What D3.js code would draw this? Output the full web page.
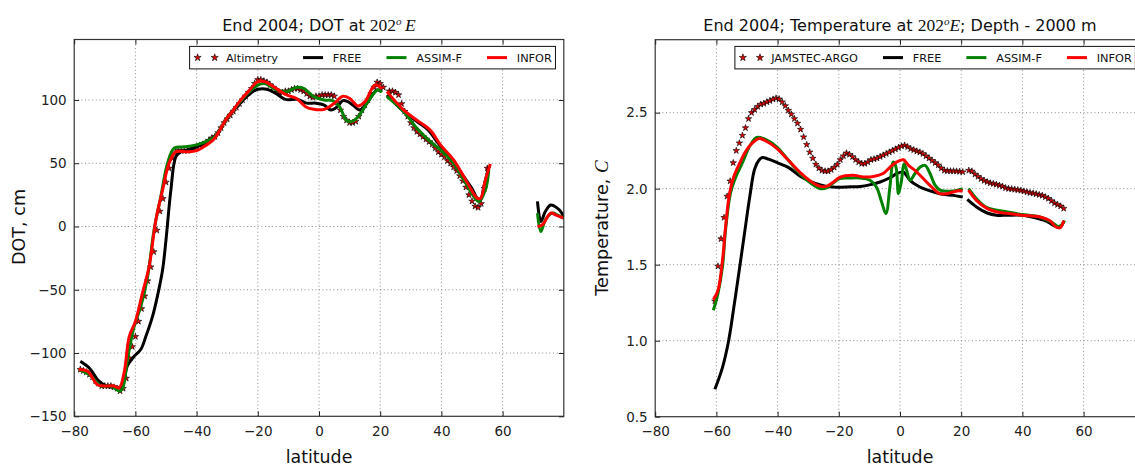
<!DOCTYPE html>
<html><head><meta charset="utf-8">
<script src="https://cdn.jsdelivr.net/npm/d3@7"></script>
<style>body{margin:0;background:#fff}svg{display:block;background:#fff}</style>
</head><body><svg id="c" width="1135" height="467"></svg>
<script>
// ---------------- DATA ----------------
const latTicks = [-80,-60,-40,-20,0,20,40,60];
const dotTicks = [-150,-100,-50,0,50,100];
const tempTicks = [0.5,1.0,1.5,2.0,2.5];

// Left panel: DOT (cm)
const dotAltLat = [-78,-77,-76,-75,-74,-73,-72,-71,-70,-69,-68,-67,-66,-65,-64,-63,-62,-61,-60,-59,-58,-57,-56,-55,-54,-53,-52,-51,-50,-49,-48,-47,-46,-45,-44,-43,-42,-41,-40,-39,-38,-37,-36,-35,-34,-33,-32,-31,-30,-29,-28,-27,-26,-25,-24,-23,-22,-21,-20,-19,-18,-17,-16,-15,-14,-13,-12,-11,-10,-9,-8,-7,-6,-5,-4,-3,-2,-1,0,1,2,3,4,5,6,7,8,9,10,11,12,13,14,15,16,17,18,19,20,21,23,24,25,26,27,28,29,30,31,32,33,34,35,36,37,38,39,40,41,42,43,44,45,46,47,48,49,50,51,52,53,54,55];
const dotAltVal = [-113,-114,-115,-117,-119,-122,-124,-126,-126,-126,-126,-127,-128,-130,-128,-120,-104,-95,-87,-75,-65,-55,-43,-32,-20,-3,12,22,35,46,54,58,60,60,60,60,61,62,63,64,65,66,68,70,71,74,78,82,85,88,91,94,97,100,103,106,109,113,116,116,115,114,112,110,108,106,106,107,107,108,109,109,108,107,105,103,102,103,103,104,104,104,104,103,98,92,87,84,82,82,83,87,92,96,100,105,110,114,113,110,107,107,106,104,97,91,87,82,78,75,73,71,69,67,65,62,59,57,55,52,50,47,44,40,36,31,25,20,16,15,18,30,46];

const dotFreeLat = [-78,-75,-72,-69,-66,-64.5,-62.6,-60.4,-58.2,-56.6,-54.4,-52.8,-51.1,-50,-48.4,-46.8,-45.2,-42.8,-40,-37,-34,-32,-30,-28,-26,-24,-22,-20,-17,-14,-11,-7,-4,-1,1.7,3.9,6,7.8,9.4,11.7,13.3,16,18.9,20.5,21.3,22.2,27.7,32,35.8,38.6,43,47.3,50,51.7,52.8,54,55.5,60,71.4,72.5,74,75.7,77,78.5,80];
const dotFreeVal = [-106.5,-112,-122,-126.5,-127,-127,-110,-102.5,-97,-87,-71,-55,-34,-10.5,29,55,59,60.5,63,67,71,78,86,92,97,102,106,108.5,108.5,105,100.5,100.5,97.5,97.5,96,92,94.7,99.5,98.7,94.7,92,98.7,108,106.5,null,104,90.8,83,76,67,54,39.5,30,22.4,21,33,47.4,null,19.8,4,12,17,16,13.2,8];

const dotAssimLat = [-78.5,-74.6,-71.3,-68,-65.3,-64.2,-62.6,-60.4,-58.2,-56,-53.9,-51.7,-49.5,-47.3,-44,-40,-37,-34,-32,-30,-28,-26,-23,-20,-17.8,-13.9,-10.6,-7.2,-5,-1.7,1.7,4.4,6.7,8.9,10.6,12.8,15,17.8,19.4,20.5,21.3,22.2,27.7,32,36.4,39.7,44,47.3,50.6,52.2,54.4,55.5,60,71.4,72.5,74,76.3,78,80];
const dotAssimVal = [-113,-118,-126,-126,-130,-128,-105,-79,-63,-39.4,-2.6,23.7,50,62,63,64.5,67,71,78,86,92,98,106,111.8,113,108,106.6,110,109.2,102.6,100,99.5,94.7,84,83,86.8,94.7,105,108,106,null,102.6,90.8,77.6,67,60.5,50,37,23.7,19.8,29,44.8,null,10.6,-4,5.3,10.6,9,6.6];

const dotInforLat = [-78.5,-75.6,-72.4,-70.2,-67,-65.3,-63.7,-62,-60,-57.7,-55.5,-53.3,-51.1,-49,-46.8,-43,-40,-37,-34,-32,-30,-28,-26,-23,-20,-17.8,-13.9,-10.6,-7.2,-4.4,-1.7,1.7,5,7.8,10,12.8,15,18.3,20.5,21.3,22.2,27.7,32,36.4,39.7,44,47.3,49.5,51.7,52.8,54.4,56,60,71.4,73,75.7,77.5,80];
const dotInforVal = [-113,-114.5,-125,-126,-126,-127.5,-115.7,-86.8,-75,-52.6,-31.5,5.3,29,50,59,59,60,64,70,78,86,92,98.7,107,114.5,114.5,109,104,101,94.7,92.6,92.6,97.4,103,101.3,95.3,98.7,111.8,109,null,106.6,92,84,76,64.5,52.7,39.5,30.3,22.4,22.4,37,49.5,null,0,1.4,10.6,9,6.6];

// Right panel: Temperature at 2000 m (C)
const tArgoLat = [-60.5,-59.5,-58.5,-57.5,-56.5,-55.5,-54.5,-53.5,-52.5,-51.5,-50.5,-49.5,-48.5,-47.5,-46.5,-45.5,-44.5,-43.5,-42.5,-41.5,-40.5,-39.5,-38.5,-37.5,-36.5,-35.5,-34.5,-33.5,-32.5,-31.5,-30.5,-29.5,-28.5,-27.5,-26.5,-25.5,-24.5,-23.5,-22.5,-21.5,-20.5,-19.5,-18.5,-17.5,-16.5,-15.5,-14.5,-13.5,-12.5,-11.5,-10.5,-9.5,-8.5,-7.5,-6.5,-5.5,-4.5,-3.5,-2.5,-1.5,-0.5,0.5,1.5,2.5,3.5,4.5,5.5,6.5,7.5,8.5,9.5,10.5,11.5,12.5,13.5,14.5,15.5,16.5,17.5,18.5,19.5,20.5,22.5,23.5,24.5,25.5,26.5,27.5,28.5,29.5,30.5,31.5,32.5,33.5,34.5,35.5,36.5,37.5,38.5,39.5,40.5,41.5,42.5,43.5,44.5,45.5,46.5,47.5,48.5,49.5,50.5,51.5,52.5,53.5];
const tArgoVal = [1.26,1.49,1.67,1.81,1.95,2.05,2.17,2.25,2.30,2.35,2.40,2.46,2.50,2.52,2.54,2.555,2.56,2.57,2.578,2.588,2.595,2.59,2.57,2.545,2.515,2.49,2.46,2.43,2.39,2.34,2.29,2.24,2.20,2.16,2.135,2.12,2.115,2.115,2.125,2.14,2.16,2.19,2.215,2.234,2.225,2.21,2.19,2.175,2.165,2.165,2.175,2.19,2.195,2.20,2.21,2.22,2.23,2.24,2.25,2.26,2.27,2.28,2.285,2.275,2.262,2.255,2.247,2.24,2.23,2.215,2.20,2.185,2.17,2.155,2.135,2.12,2.117,2.116,2.116,2.115,2.113,2.11,2.12,2.115,2.095,2.08,2.065,2.053,2.045,2.037,2.033,2.028,2.022,2.015,2.005,2.0,1.998,1.995,1.992,1.988,1.983,1.978,1.973,1.97,1.965,1.96,1.955,1.945,1.935,1.92,1.905,1.895,1.885,1.87];

const tFreeLat = [-60.5,-58,-56,-54.3,-52.7,-51,-49,-47.5,-46,-45,-43,-40,-36.5,-32.5,-29,-26,-23,-20,-16,-13,-10,-6.5,-3,-1,1,2,3.3,5.5,7.7,11,14,17.5,20.5,21.3,22,25,28.5,31.5,35,40,45.7,48,50,52,53.5];
const tFreeVal = [0.68,0.825,1.0,1.22,1.44,1.68,1.96,2.13,2.19,2.205,2.194,2.17,2.14,2.08,2.045,2.025,2.012,2.01,2.012,2.015,2.025,2.044,2.075,2.10,2.11,2.09,2.055,2.022,2.0,1.978,1.963,1.956,1.945,null,1.93,1.88,1.84,1.825,1.825,1.825,1.80,1.785,1.76,1.744,1.78];

const tAssimLat = [-61,-59.5,-58,-57,-55.4,-53.8,-51.6,-48.9,-46.8,-43.5,-40.3,-36.6,-32.3,-29,-26,-24,-22,-19.7,-16.4,-13.1,-9.8,-7.7,-6,-4.6,-3.3,-2.2,-1.3,-0.5,0.5,1.3,2.2,3.3,4.9,6.6,8.2,9.8,11.5,13.1,17.5,20.5,21.3,22.4,25,28.4,31.7,35,40,45.7,49.5,51.6,52.7,53.8];
const tAssimVal = [1.20,1.31,1.49,1.73,1.97,2.07,2.166,2.287,2.337,2.32,2.275,2.19,2.09,2.034,2.0,2.005,2.035,2.066,2.07,2.07,2.055,2.011,1.912,1.836,2.011,2.175,2.142,1.967,2.055,2.164,2.12,2.055,2.10,2.142,2.153,2.10,2.022,1.99,1.985,2.0,null,2.0,1.934,1.875,1.858,1.847,1.83,1.814,1.78,1.752,1.76,1.79];

const tInforLat = [-61,-59.5,-58,-57,-55.7,-54.3,-52.7,-50.5,-48.4,-46,-43.5,-40.3,-36.6,-32.3,-29,-26,-24,-22,-19.7,-15.3,-12,-8.7,-5.5,-3.3,-1.1,1.1,2.7,4.9,7.1,9.8,13,15.3,18.6,20.5,21.3,22.4,25,28.4,31.7,35,40,45.7,48.9,51,52.4,53.5];
const tInforVal = [1.27,1.33,1.53,1.75,1.97,2.08,2.155,2.243,2.298,2.33,2.31,2.265,2.19,2.10,2.045,2.015,2.015,2.04,2.075,2.088,2.077,2.08,2.10,2.14,2.175,2.19,2.155,2.12,2.077,2.022,1.967,1.967,1.985,1.985,null,1.99,1.923,1.87,1.847,1.838,1.825,1.814,1.79,1.748,1.744,1.79];

const leftLegend = ["Altimetry","FREE","ASSIM-F","INFOR"];
const rightLegend = ["JAMSTEC-ARGO","FREE","ASSIM-F","INFOR"];
const lineColors = {FREE:"#000000","ASSIM-F":"#008000",INFOR:"#ff0000"};

// ---------------- DRAWING ----------------
const svg = d3.select("#c");
const SANS = '"DejaVu Sans", sans-serif';
const SERIF = '"Liberation Serif","DejaVu Serif",serif';
const pts = (la, va) => d3.zip(la, va).map(([lat, v]) => ({lat, v}));

const panels = [
  { key:"L",
    x: d3.scaleLinear().domain([-80,80]).range([74.2,563.8]),
    y: d3.scaleLinear().domain([-150,147.8]).range([416.3,39.5]),
    yt: dotTicks, yfmt: d3.format("d"),
    stars: pts(dotAltLat, dotAltVal),
    lines: [["FREE", pts(dotFreeLat, dotFreeVal)], ["ASSIM-F", pts(dotAssimLat, dotAssimVal)], ["INFOR", pts(dotInforLat, dotInforVal)]],
    legend: leftLegend, legendX: 189.6 },
  { key:"R",
    x: d3.scaleLinear().domain([-80,80]).range([655.2,1144.8]),
    y: d3.scaleLinear().domain([0.5,2.98]).range([416.7,39.7]),
    yt: tempTicks, yfmt: d3.format(".1f"),
    stars: pts(tArgoLat, tArgoVal),
    lines: [["FREE", pts(tFreeLat, tFreeVal)], ["ASSIM-F", pts(tAssimLat, tAssimVal)], ["INFOR", pts(tInforLat, tInforVal)]],
    legend: rightLegend, legendX: 734.9 }
];

const starPath = d3.symbol(d3.symbolStar, 13)();
const starPathLg = d3.symbol(d3.symbolStar, 16)();

panels.forEach(p => {
  const [x0, x1] = p.x.range();
  const [yb, yt] = p.y.range();
  const g = svg.append("g");
  const cid = "clip" + p.key;
  svg.append("clipPath").attr("id", cid).append("rect")
    .attr("x", x0).attr("y", yt).attr("width", x1 - x0).attr("height", yb - yt);

  // grid
  const grid = g.append("g").attr("stroke", "#808080").attr("stroke-width", 0.9).attr("stroke-dasharray", "1,2.6");
  grid.selectAll("line.vx").data(latTicks.filter(v => v > p.x.domain()[0])).join("line")
    .attr("x1", d => p.x(d)).attr("x2", d => p.x(d)).attr("y1", yb).attr("y2", yt);
  grid.selectAll("line.hy").data(p.yt.filter(v => v > p.y.domain()[0])).join("line")
    .attr("x1", x0).attr("x2", x1).attr("y1", d => p.y(d)).attr("y2", d => p.y(d));

  // data
  const plot = g.append("g").attr("clip-path", `url(#${cid})`);
  plot.selectAll("path.star").data(p.stars).join("path").attr("class", "star")
    .attr("transform", d => `translate(${p.x(d.lat)},${p.y(d.v)})`)
    .attr("d", starPath).attr("fill", "#e00000").attr("stroke", "#000").attr("stroke-width", 0.6);
  const line = d3.line().defined(d => d.v != null).x(d => p.x(d.lat)).y(d => p.y(d.v))
    .curve(d3.curveCatmullRom.alpha(0.5));
  p.lines.forEach(([name, data]) => {
    plot.append("path").datum(data).attr("d", line).attr("fill", "none")
      .attr("stroke", lineColors[name]).attr("stroke-width", 3)
      .attr("stroke-linejoin", "round").attr("stroke-linecap", "butt");
  });

  // frame
  g.append("rect").attr("x", x0).attr("y", yt).attr("width", x1 - x0).attr("height", yb - yt)
    .attr("fill", "none").attr("stroke", "#333").attr("stroke-width", 1.2);

  // axes
  const style = a => a.attr("color", "#222").attr("font-family", SANS).attr("font-size", 13.5)
    .call(s => s.select(".domain").remove());
  g.append("g").attr("transform", `translate(0,${yb})`)
    .call(d3.axisBottom(p.x).tickValues(latTicks).tickSize(-5).tickPadding(10).tickFormat(d3.format("d"))).call(style);
  g.append("g").attr("transform", `translate(0,${yt})`)
    .call(d3.axisTop(p.x).tickValues(latTicks).tickSize(-5).tickFormat("")).call(style);
  g.append("g").attr("transform", `translate(${x0},0)`)
    .call(d3.axisLeft(p.y).tickValues(p.yt).tickSize(-5).tickPadding(7.5).tickFormat(p.yfmt)).call(style);
  g.append("g").attr("transform", `translate(${x1},0)`)
    .call(d3.axisRight(p.y).tickValues(p.yt).tickSize(-5).tickFormat("")).call(style);

  // legend
  const lg = svg.append("g").attr("font-family", SANS).attr("font-size", 11.3);
  const box = lg.append("rect");
  const cy = 57.6;
  let hx = p.legendX + 6.5, end = hx;
  p.legend.forEach((name, i) => {
    if (i === 0) {
      [hx + 1.5, hx + 18.6].forEach(sx => lg.append("path").attr("d", starPathLg)
        .attr("transform", `translate(${sx},${cy})`).attr("fill", "#e00000").attr("stroke", "#000").attr("stroke-width", 0.6));
    } else {
      lg.append("line").attr("x1", hx).attr("x2", hx + 20).attr("y1", cy).attr("y2", cy)
        .attr("stroke", lineColors[name]).attr("stroke-width", 3);
    }
    const t = lg.append("text").attr("x", hx + 29.8).attr("y", cy + 4.1).attr("fill", "#111").text(name);
    end = hx + 29.8 + t.node().getComputedTextLength();
    hx = end + 25;
  });
  box.attr("x", p.legendX).attr("y", 46.4).attr("width", end + 3.6 - p.legendX).attr("height", 22.5)
    .attr("fill", "#fff").attr("stroke", "#111").attr("stroke-width", 1);

  // x label
  svg.append("text").attr("x", (x0 + Math.min(x1, 1144.8)) / 2).attr("y", 462.5).attr("text-anchor", "middle")
    .attr("font-family", SANS).attr("font-size", 17.4).attr("fill", "#111").text("latitude");
});

// Titles
function title(cx, before, after) {
  const t = svg.append("text").attr("x", cx).attr("y", 31).attr("text-anchor", "middle")
    .attr("font-family", SANS).attr("font-size", 16).attr("fill", "#111");
  t.append("tspan").text(before);
  t.append("tspan").attr("font-family", SERIF).attr("font-size", 17.5).text("202");
  t.append("tspan").attr("font-family", SERIF).attr("font-style", "italic").attr("font-size", 11).attr("dy", -6.5).text("o");
  t.append("tspan").attr("font-family", SERIF).attr("font-style", "italic").attr("font-size", 17.5).attr("dy", 6.5).text(after === "" ? "\u2009E" : "E");
  if (after) t.append("tspan").text(after);
}
title(319, "End 2004; DOT at ", "");
title(900, "End 2004; Temperature at ", "; Depth - 2000 m");

// Y labels
svg.append("text").attr("transform", "translate(24.5,227) rotate(-90)").attr("text-anchor", "middle")
  .attr("font-family", SANS).attr("font-size", 17.6).attr("fill", "#111").text("DOT, cm");
const yl = svg.append("text").attr("transform", "translate(608,228) rotate(-90)").attr("text-anchor", "middle")
  .attr("font-family", SANS).attr("font-size", 17.6).attr("fill", "#111");
yl.append("tspan").text("Temperature, ");
yl.append("tspan").attr("font-family", SERIF).attr("font-style", "italic").attr("font-size", 19).text("C");
</script></body></html>
